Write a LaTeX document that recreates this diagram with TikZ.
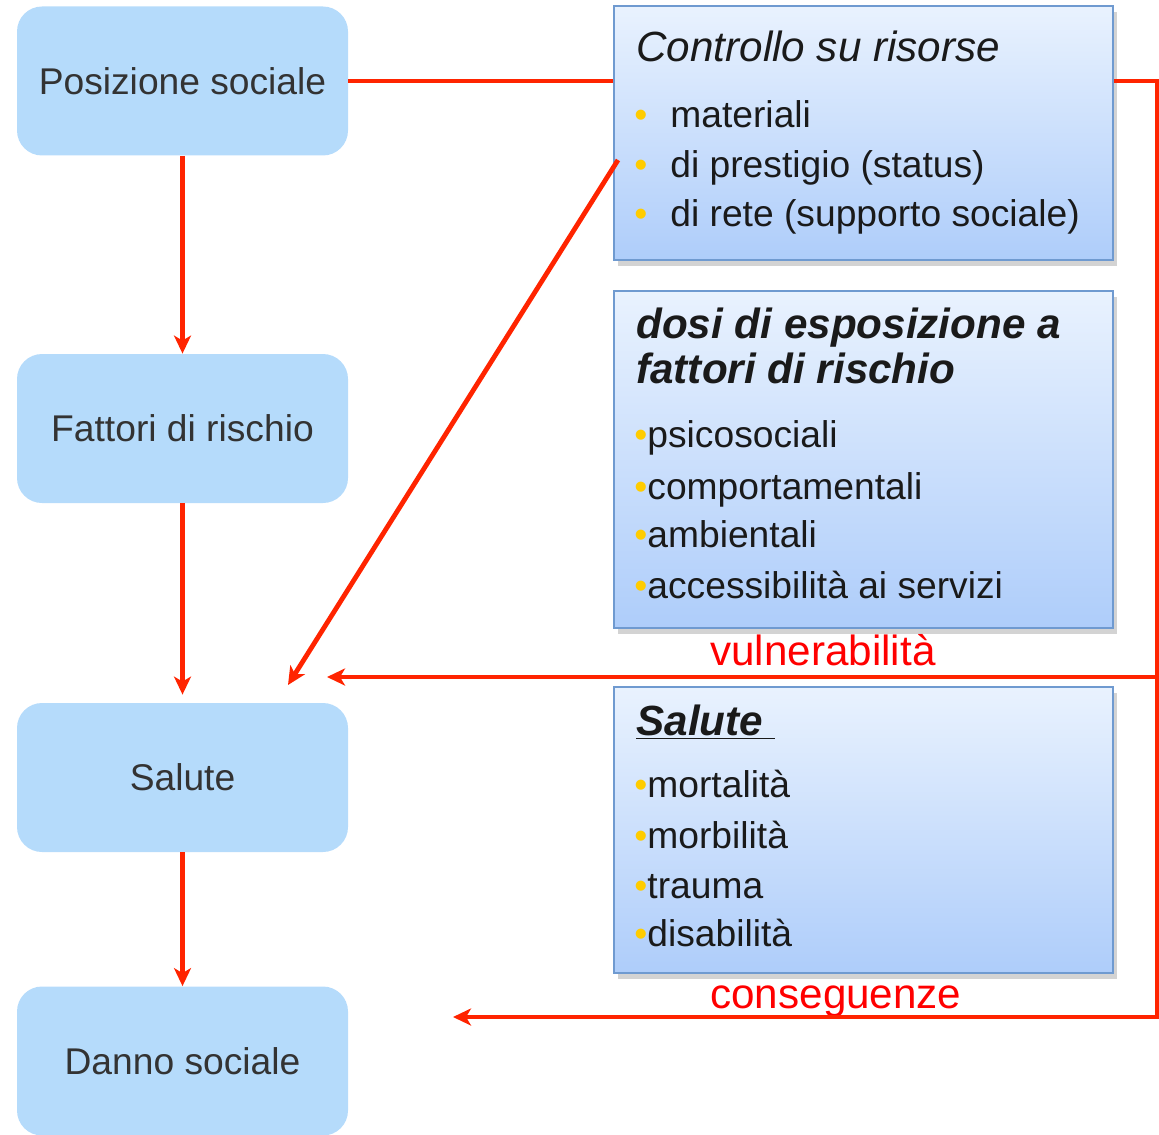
\documentclass[tikz,border=0pt]{standalone}
\usepackage{fontspec}
\setmainfont{Liberation Sans}
\usetikzlibrary{arrows.meta,shadows}
\definecolor{boxblue}{HTML}{B5DBFB}
\definecolor{textgray}{HTML}{333333}
\definecolor{textdark}{HTML}{1A1A1A}
\definecolor{frameblue}{HTML}{6F9AD0}
\definecolor{shadetop}{HTML}{E9F2FE}
\definecolor{shadebot}{HTML}{AECDFA}
\definecolor{linered}{HTML}{FF2400}
\definecolor{bulletyellow}{HTML}{FFCC00}
\newcommand\pallino{\textcolor{bulletyellow}{•}}

\begin{document}
\begin{tikzpicture}[x=0.5pt,y=-0.5pt,
  leftbox/.style={rectangle,rounded corners=12.5pt,fill=boxblue,minimum width=165.5pt,minimum height=74.5pt,inner sep=0pt,text=textgray,font=\fontsize{18.6}{22}\selectfont},
  rightbox/.style={rectangle,draw=frameblue,line width=1pt,top color=shadetop,bottom color=shadebot,minimum width=249.5pt,inner sep=0pt,drop shadow={shadow xshift=2pt,shadow yshift=-3pt,opacity=.35}},
  title/.style={anchor=base west,inner sep=0pt,text=textdark,font=\fontsize{21.1}{25}\selectfont\itshape},
  item/.style={anchor=base west,inner sep=0pt,text=textdark,font=\fontsize{18.6}{22}\selectfont},
  redline/.style={draw=linered,line width=2.4pt},
  redarrow/.style={redline,-{Stealth[length=9pt,width=8.5pt,inset=2.5pt]}},
  redlabel/.style={anchor=base west,inner sep=0pt,text=red,font=\fontsize{21.1}{25}\selectfont}]
\useasboundingbox (0,0) rectangle (1159,1134);

% left column
\node[leftbox] (pos) at (182.5,81) {Posizione sociale};
\node[leftbox] (fatt) at (182.5,428.5) {Fattori di rischio};
\node[leftbox] (sal) at (182.5,777.5) {Salute};
\node[leftbox] (danno) at (182.5,1061) {Danno sociale};

% right column
\node[rightbox,minimum height=127pt] (ctrl) at (863.5,133) {};
\node[title] (ctrlT) at (636,62) {Controllo su risorse};
\node[item] (ctrlB1) at (634,128) {\pallino};
\node[item] (ctrl1) at (670,128) {materiali};
\node[item] (ctrlB2) at (634,177) {\pallino};
\node[item] (ctrl2) at (670,177) {di prestigio (status)};
\node[item] (ctrlB3) at (634,226) {\pallino};
\node[item] (ctrl3) at (670,226) {di rete (supporto sociale)};

\node[rightbox,minimum height=168.5pt] (dosi) at (863.5,459.5) {};
\node[title,font=\fontsize{21.1}{25}\selectfont\bfseries\itshape] (dosiT1) at (636,338) {dosi di esposizione a};
\node[title,font=\fontsize{21.1}{25}\selectfont\bfseries\itshape] (dosiT2) at (636,383) {fattori di rischio};
\node[item] (dosi1) at (634,447) {\pallino psicosociali};
\node[item] (dosi2) at (634,499) {\pallino comportamentali};
\node[item] (dosi3) at (634,547) {\pallino ambientali};
\node[item] (dosi4) at (634,598) {\pallino accessibilità ai servizi};

\node[rightbox,minimum height=143pt] (salbox) at (863.5,830) {};
\node[title,font=\fontsize{21.1}{25}\selectfont\bfseries\itshape] (salT) at (636,735) {\underline{Salute\ }};
\node[item] (sal1) at (634,797) {\pallino mortalità};
\node[item] (sal2) at (634,848) {\pallino morbilità};
\node[item] (sal3) at (634,898) {\pallino trauma};
\node[item] (sal4) at (634,946) {\pallino disabilità};

\node[redlabel] (vuln) at (710,665) {vulnerabilità};
\node[redlabel] (cons) at (710,1008) {conseguenze};

% connectors
\coordinate (cTR) at (1157,81);
\coordinate (cMid) at (1157,677);
\coordinate (cBR) at (1157,1017);
\coordinate (vulnTip) at (327,677);
\coordinate (consTip) at (453,1017);
\coordinate (diagStart) at (618,160);
\coordinate (diagTip) at (288,685);

\draw[redarrow] (pos.south) -- (fatt.north);
\draw[redarrow,shorten >=4pt] (fatt.south) -- (sal.north);
\draw[redarrow] (sal.south) -- (danno.north);

\draw[redline] (pos.east) -- (pos.east -| ctrl.west);
\draw[redarrow] (pos.east -| ctrl.east) -- (cTR) -- (cBR) -- (consTip);
\draw[redarrow] (cMid) -- (vulnTip);
\draw[redarrow] (diagStart) -- (diagTip);
\end{tikzpicture}
\end{document}
